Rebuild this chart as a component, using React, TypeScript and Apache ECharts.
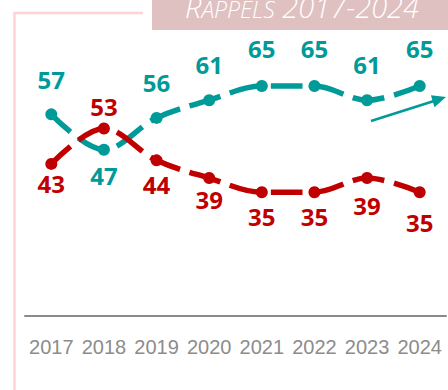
import React, { useEffect, useRef } from "react";
import * as echarts from "echarts";

const years = ["2017", "2018", "2019", "2020", "2021", "2022", "2023", "2024"];
const tealValues = [57, 47, 56, 61, 65, 65, 61, 65];
const redValues = [43, 53, 44, 39, 35, 35, 39, 35];
// label vertical offsets (px) relative to point
const tealLabelDy = [-35, 26, -35, -36, -38, -38, -36, -38];
const redLabelDy = [20, -22, 24, 21, 24, 24, 27, 30];

const TEAL = "#009a98";
const RED = "#c00000";

export default function App() {
  const ref = useRef<HTMLDivElement>(null);
  useEffect(() => {
    if (!ref.current) return;
    const chart = echarts.init(ref.current, undefined, { renderer: "svg" });
    const labelFont = {
      fontFamily: "'Open Sans', 'Noto Sans', sans-serif",
      fontWeight: "bold" as const,
      fontSize: 24,
    };
    const mk = (vals: number[], dys: number[], color: string) =>
      vals.map((v, i) => ({
        value: v,
        label: {
          show: true,
          position: "inside",
          offset: [0, dys[i]],
          color,
          ...labelFont,
        },
      }));
    chart.setOption({
      animation: false,
      grid: { left: 25, right: 2, top: 33, bottom: 74 },
      xAxis: {
        type: "category",
        data: years,
        boundaryGap: true,
        axisLine: { show: true, lineStyle: { color: "#8a8a8a", width: 2 } },
        axisTick: { show: false },
        axisLabel: {
          interval: 0,
          color: "#8c8c8c",
          fontFamily: "'Liberation Sans Narrow', 'Arial Narrow', 'Liberation Sans', sans-serif",
          fontSize: 20,
          margin: 21,
        },
        splitLine: { show: false },
      },
      yAxis: {
        type: "value",
        min: 0,
        max: 80,
        show: false,
        splitLine: { show: false },
      },
      series: [
        {
          type: "line",
          data: mk(tealValues, tealLabelDy, TEAL),
          smooth: 0.35,
          symbol: "circle",
          symbolSize: 12,
          itemStyle: { color: TEAL },
          lineStyle: { color: TEAL, width: 5.5, type: [32, 10], dashOffset: 6 },
        },
        {
          type: "line",
          data: mk(redValues, redLabelDy, RED),
          smooth: 0.35,
          symbol: "circle",
          symbolSize: 12,
          itemStyle: { color: RED },
          lineStyle: { color: RED, width: 5.5, type: [32, 10], dashOffset: 6 },
        },
      ],
      graphic: [
        {
          type: "polyline",
          shape: { points: [[14.5, 390], [14.5, 13], [143, 13]] },
          style: { stroke: "#ffd3d3", lineWidth: 2.5, fill: null },
          silent: true,
        },
        {
          type: "rect",
          shape: { x: 152, y: 0, width: 296, height: 30 },
          style: { fill: "#dfc1c1" },
          silent: true,
        },
        {
          type: "text",
          x: 302,
          y: 6,
          style: {
            text: "{a|R}{b|APPELS}{a| 2017-2024}",
            align: "center",
            verticalAlign: "middle",
            fill: "#ffffff",
            rich: {
              a: {
                fontSize: 29,
                fontStyle: "italic",
                fontWeight: 300,
                fontFamily: "'Open Sans', 'Lato', sans-serif",
                fill: "#ffffff",
                verticalAlign: "bottom",
              },
              b: {
                fontSize: 23,
                fontStyle: "italic",
                fontWeight: 300,
                fontFamily: "'Open Sans', 'Lato', sans-serif",
                fill: "#ffffff",
                verticalAlign: "bottom",
              },
            },
          },
          silent: true,
        },
        {
          type: "line",
          shape: { x1: 371, y1: 121, x2: 434, y2: 101 },
          style: { stroke: TEAL, lineWidth: 2.5 },
          silent: true,
        },
        {
          type: "polygon",
          shape: { points: [[446, 97], [430.9, 95.2], [434.5, 107.2]] },
          style: { fill: TEAL },
          silent: true,
        },
      ],
    });
    return () => chart.dispose();
  }, []);
  return (
    <div
      ref={ref}
      style={{ position: "fixed", left: 0, top: 0, width: 448, height: 390, background: "#fff" }}
    />
  );
}
